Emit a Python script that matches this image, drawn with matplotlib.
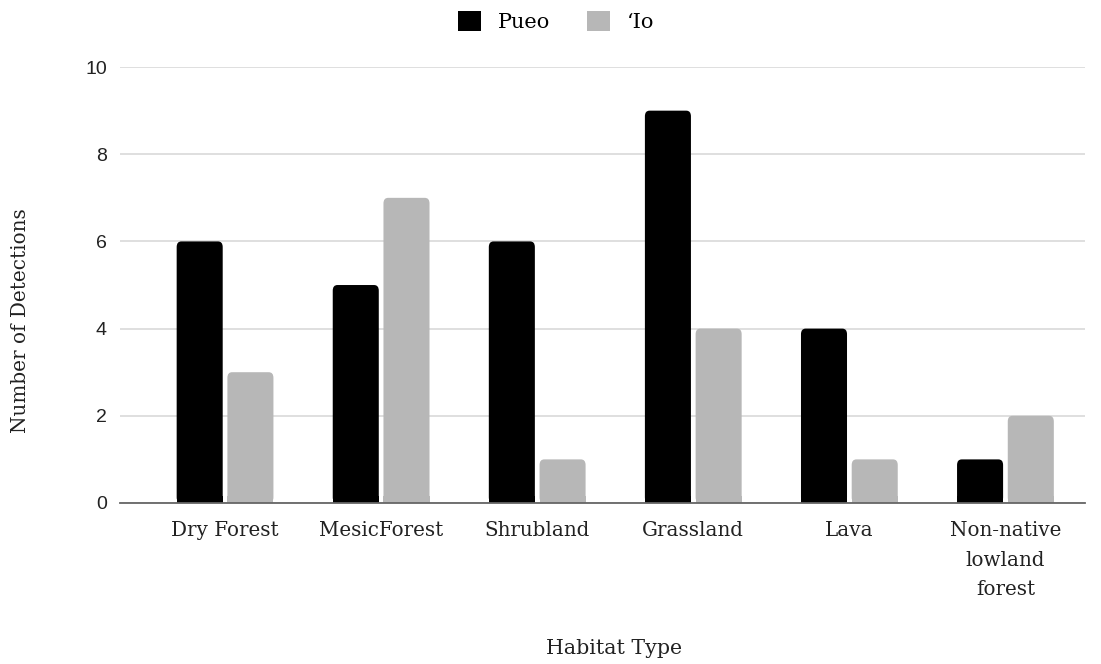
import matplotlib
matplotlib.use("Agg")
import matplotlib.pyplot as plt
import numpy as np
from matplotlib.patches import FancyBboxPatch, Patch

categories = ["Dry Forest", "MesicForest", "Shrubland", "Grassland", "Lava",
              "Non-native\nlowland\nforest"]
pueo = [6, 5, 6, 9, 4, 1]
io = [3, 7, 1, 4, 1, 2]
series_names = ["Pueo", "\u2018Io"]
yticks = [0, 2, 4, 6, 8, 10]

serif = "DejaVu Serif"
sans = "Liberation Sans"
black = "#000000"
grey = "#b7b7b7"

fig = plt.figure(figsize=(11.01, 6.64), dpi=100)
ax = fig.add_axes([0.109, 0.2425, 0.8765, 0.6565])

x = np.arange(len(categories))
w = 0.295
gap = 0.03


def rounded_bars(xs, vals, color):
    for xi, v in zip(xs, vals):
        p = FancyBboxPatch((xi - w / 2, 0), w, v,
                           boxstyle="round,pad=0,rounding_size=0.03",
                           mutation_aspect=4.3, antialiased=True,
                           facecolor=color, edgecolor="none", zorder=3)
        ax.add_patch(p)
        # square off the bottom corners
        ax.bar(xi, min(v, 0.15), width=w, color=color, zorder=3.1,
               linewidth=0)


rounded_bars(x - w / 2 - gap / 2, pueo, black)
rounded_bars(x + w / 2 + gap / 2, io, grey)

ax.set_xlim(-0.673, len(categories) - 0.49)
ax.set_ylim(0, 10)
ax.set_yticks(yticks)
ax.set_yticklabels([str(t) for t in yticks], fontfamily=sans, fontsize=14,
                   color="#222222")
ax.set_xticks(x)
ax.set_xticklabels(categories, fontfamily=serif, fontsize=14.3, color="#222222",
                   linespacing=1.7, va="top")
ax.tick_params(axis="both", length=0)
ax.tick_params(axis="x", pad=13)
ax.tick_params(axis="y", pad=9.5)

ax.grid(axis="y", color="#d9d9d9", linewidth=1.2, zorder=0)
ax.set_axisbelow(True)
for s in ["top", "right", "left"]:
    ax.spines[s].set_visible(False)
ax.spines["bottom"].set_color("#666666")
ax.spines["bottom"].set_linewidth(1.3)
ax.spines["bottom"].set_zorder(4)

fig.text(0.558, 0.024, "Habitat Type", ha="center", va="center",
         fontfamily=serif, fontsize=14.8, color="#222222")
fig.text(0.019, 0.517, "Number of Detections", ha="center", va="center",
         rotation=90, fontfamily=serif, fontsize=14.4, color="#222222")

fig.legend(handles=[Patch(facecolor=black), Patch(facecolor=grey)],
           labels=series_names, loc="center", bbox_to_anchor=(0.505, 0.968),
           ncol=2, frameon=False, handlelength=1.1, handleheight=1.1,
           handletextpad=0.8, columnspacing=1.8,
           prop={"family": serif, "size": 15})

fig.savefig("out.png", dpi=100, facecolor="white")
